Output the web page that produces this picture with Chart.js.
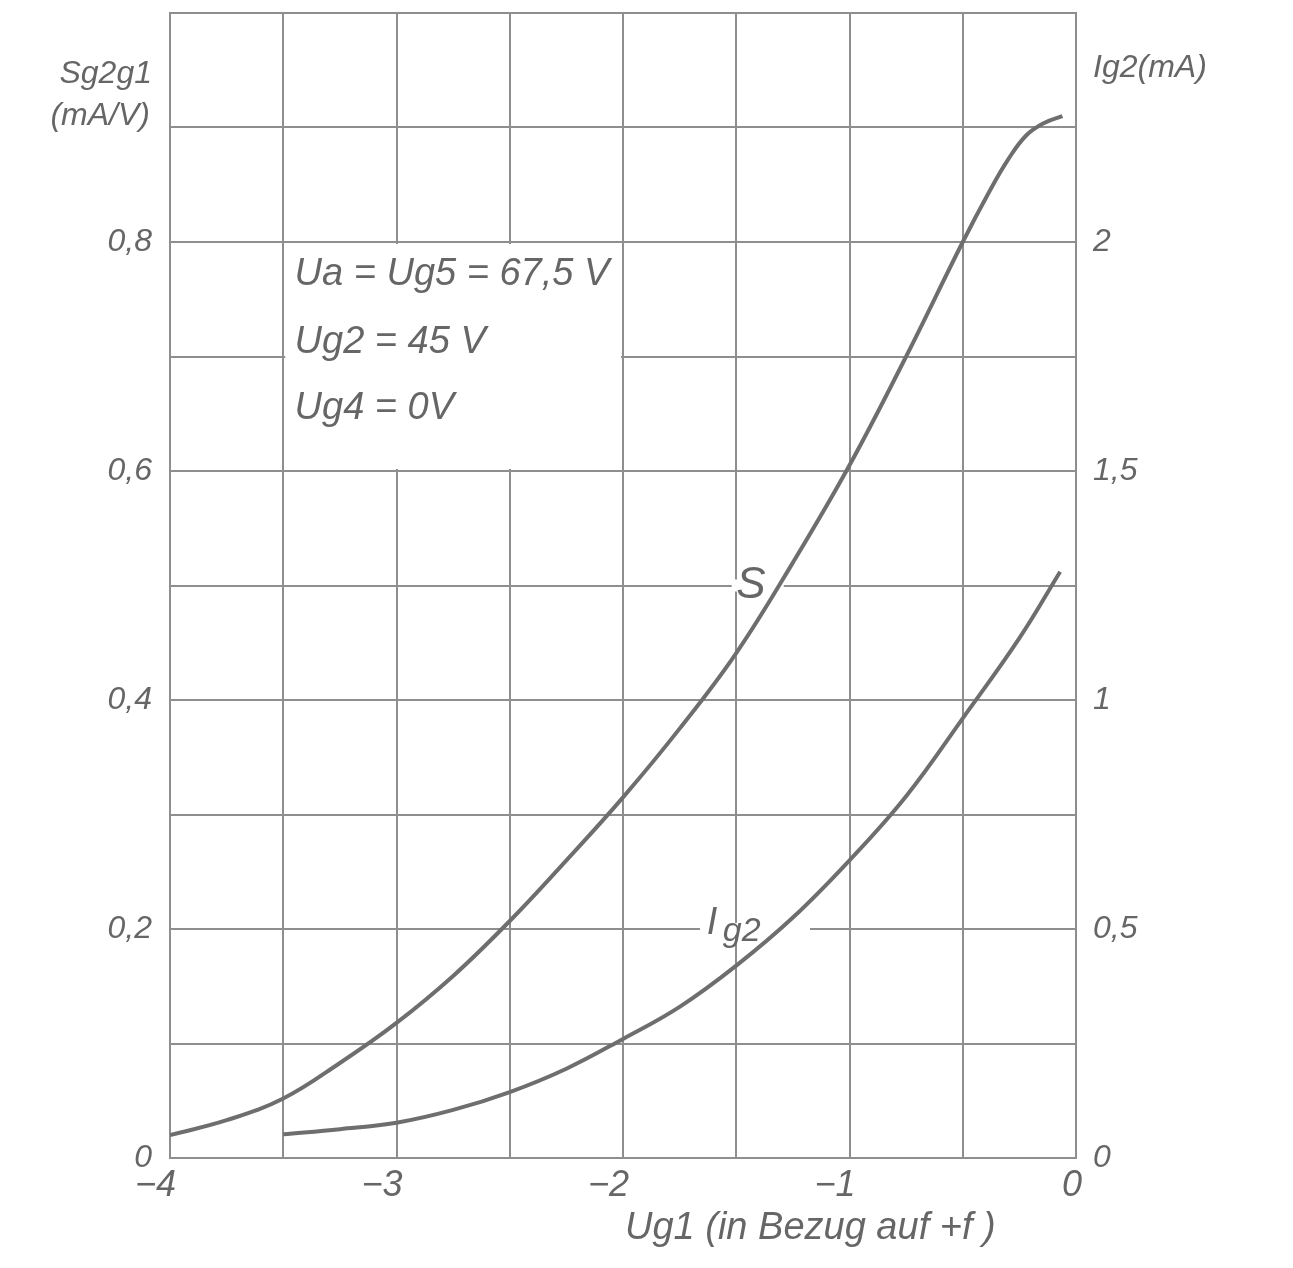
<!DOCTYPE html>
<html>
<head>
<meta charset="utf-8">
<script src="https://cdn.jsdelivr.net/npm/chart.js@4.4.0/dist/chart.umd.min.js"></script>
<style>
  html, body { margin: 0; padding: 0; background: #fff; }
  #wrap { width: 1293px; height: 1268px; position: relative; }
</style>
</head>
<body>
<div id="wrap"><canvas id="myChart"></canvas></div>
<script>
// Ug1 (V) samples for the S curve and its values (mA/V)
const sUg = [-4, -3.75, -3.5, -3.25, -3, -2.75, -2.5, -2.25, -2, -1.75, -1.5, -1.25, -1, -0.75, -0.5, -0.38, -0.3, -0.22, -0.14, -0.06];
const sValues = [0.02, 0.033, 0.052, 0.083, 0.118, 0.159, 0.207, 0.26, 0.315, 0.375, 0.441, 0.52, 0.605, 0.70, 0.80, 0.845, 0.872, 0.893, 0.904, 0.91];

// Ug1 (V) samples for the Ig2 curve and its values (mA)
const igUg = [-3.5, -3.25, -3, -2.75, -2.5, -2.25, -2, -1.75, -1.5, -1.25, -1, -0.75, -0.5, -0.25, -0.07];
const igValues = [0.052, 0.063, 0.077, 0.105, 0.144, 0.195, 0.26, 0.33, 0.42, 0.525, 0.65, 0.79, 0.96, 1.135, 1.28];

const xTickLabels = { '-4': '\u22124', '-3': '\u22123', '-2': '\u22122', '-1': '\u22121', '0': '0' };
const leftTickLabels = { '0': '0', '0.2': '0,2', '0.4': '0,4', '0.6': '0,6', '0.8': '0,8' };
const rightTickLabels = { '0': '0', '0.5': '0,5', '1': '1', '1.5': '1,5', '2': '2' };
const conditions = ['Ua = Ug5 = 67,5 V', 'Ug2 = 45 V', 'Ug4 = 0V'];

const FONT = '"Liberation Sans", "DejaVu Sans", sans-serif';
const INK = '#666666';
const GRID = '#8e8e8e';

const toPoints = (xs, ys) => xs.map((x, i) => ({ x: x, y: ys[i] }));
const key = v => String(Math.round(v * 100) / 100);
const noPad = s => { s.paddingTop = 0; s.paddingBottom = 0; s.paddingLeft = 0; s.paddingRight = 0; };

// white patches that hide the grid behind the annotations
const masks = {
  id: 'masks',
  beforeDatasetsDraw(chart) {
    const { ctx, scales: { x, y } } = chart;
    ctx.save();
    ctx.fillStyle = '#fff';
    const l = x.getPixelForValue(-3.5) + 2, r = x.getPixelForValue(-2) - 2;
    const t = y.getPixelForValue(0.8) + 2, b = y.getPixelForValue(0.6) - 2;
    ctx.fillRect(l, t, r - l, b - t);
    ctx.fillRect(x.getPixelForValue(-1.52), y.getPixelForValue(0.5) - 6, 52, 12);
    ctx.fillRect(x.getPixelForValue(-1.66), y.getPixelForValue(0.2) - 6, 110, 12);
    ctx.restore();
  },
  afterDraw(chart) {
    const { ctx, chartArea: area, scales: { x, y } } = chart;
    ctx.save();
    ctx.fillStyle = INK;
    ctx.textBaseline = 'middle';

    // conditions block
    ctx.textAlign = 'left';
    ctx.font = 'italic 38px ' + FONT;
    const yy = [0.772, 0.712, 0.655];
    conditions.forEach((txt, i) => {
      ctx.fillText(txt, x.getPixelForValue(-3.45), y.getPixelForValue(yy[i]));
    });

    // curve labels
    ctx.font = 'italic 44px ' + FONT;
    ctx.fillText('S', x.getPixelForValue(-1.5), y.getPixelForValue(0.5));
    const ix = x.getPixelForValue(-1.63), iy = y.getPixelForValue(0.205);
    ctx.font = 'italic 38px ' + FONT;
    ctx.fillText('I', ix, iy);
    ctx.font = 'italic 34px ' + FONT;
    ctx.fillText('g2', ix + 16, iy + 8);

    // axis titles
    ctx.font = 'italic 32px ' + FONT;
    ctx.textAlign = 'right';
    ctx.fillText('Sg2g1', area.left - 18, 74);
    ctx.fillText('(mA/V)', area.left - 20, 116);
    ctx.textAlign = 'left';
    ctx.fillText('Ig2(mA)', area.right + 17, 68);
    ctx.font = 'italic 38px ' + FONT;
    ctx.fillText('Ug1 (in Bezug auf +f )', area.left + 455, area.bottom + 70);
    ctx.restore();
  }
};

const ctx = document.getElementById('myChart').getContext('2d');
new Chart(ctx, {
  type: 'line',
  data: {
    datasets: [
      {
        label: 'S',
        data: toPoints(sUg, sValues),
        yAxisID: 'y',
        borderColor: '#6e6e6e',
        borderWidth: 4,
        pointRadius: 0,
        tension: 0.4,
        fill: false,
      },
      {
        label: 'Ig2',
        data: toPoints(igUg, igValues),
        yAxisID: 'y1',
        borderColor: '#6e6e6e',
        borderWidth: 4,
        pointRadius: 0,
        tension: 0.4,
        fill: false,
      },
    ],
  },
  options: {
    responsive: true,
    maintainAspectRatio: false,
    animation: false,
    layout: { padding: { top: 13, left: 0, right: 0, bottom: 0 } },
    plugins: { legend: { display: false }, tooltip: { enabled: false } },
    scales: {
      x: {
        type: 'linear',
        min: -4,
        max: 0,
        afterFit: s => { s.height = 110; noPad(s); },
        grid: { color: GRID, lineWidth: 2, drawTicks: false },
        border: { color: GRID, width: 2 },
        ticks: {
          stepSize: 0.5,
          autoSkip: false,
          maxRotation: 0,
          align: 'end',
          labelOffset: 6,
          padding: 6,
          color: INK,
          font: { family: FONT, size: 36, style: 'italic' },
          callback: v => xTickLabels[key(v)] || '',
        },
      },
      y: {
        type: 'linear',
        position: 'left',
        min: 0,
        max: 1,
        afterFit: s => { s.width = 170; noPad(s); },
        grid: { color: GRID, lineWidth: 2, drawTicks: false },
        border: { color: GRID, width: 2 },
        ticks: {
          stepSize: 0.1,
          autoSkip: false,
          padding: 18,
          color: INK,
          font: { family: FONT, size: 32, style: 'italic' },
          callback: v => leftTickLabels[key(v)] || '',
        },
      },
      y1: {
        type: 'linear',
        position: 'right',
        min: 0,
        max: 2.5,
        afterFit: s => { s.width = 217; noPad(s); },
        grid: { drawOnChartArea: false, drawTicks: false },
        border: { color: GRID, width: 2 },
        ticks: {
          stepSize: 0.5,
          autoSkip: false,
          padding: 17,
          color: INK,
          font: { family: FONT, size: 32, style: 'italic' },
          callback: v => rightTickLabels[key(v)] || '',
        },
      },
    },
  },
  plugins: [masks],
});
</script>
</body>
</html>
